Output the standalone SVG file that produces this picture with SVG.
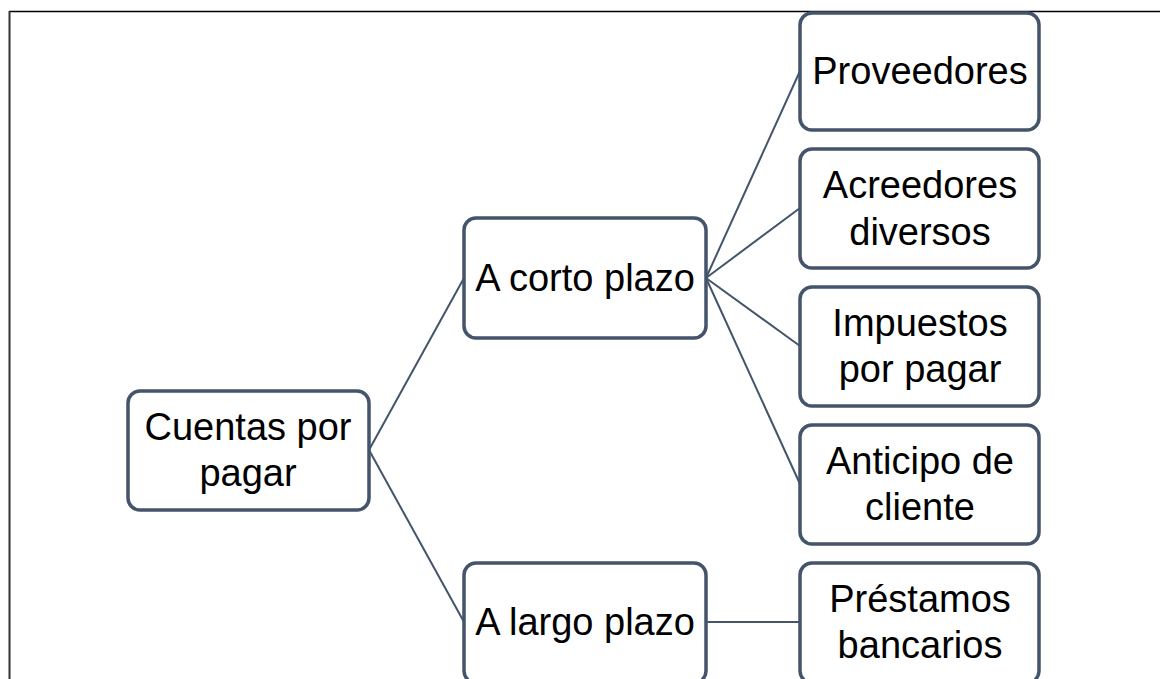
<svg xmlns="http://www.w3.org/2000/svg" width="1160" height="679" viewBox="0 0 1160 679">
<style>
.box{fill:#fff;stroke:#44546A;stroke-width:3.5}
.t{font-family:"Liberation Sans",Arial,sans-serif;font-size:38px;fill:#000;text-anchor:middle}
.c{stroke:#44546A;stroke-width:2;fill:none}
</style>
<rect x="0" y="0" width="1160" height="679" fill="#fff"/>
<line x1="9" y1="11.5" x2="1160" y2="11.5" stroke="#000" stroke-width="1.5"/>
<line x1="9.5" y1="11" x2="9.5" y2="679" stroke="#333" stroke-width="2"/>
<g id="connectors">
<line class="c" x1="369" y1="450" x2="464" y2="278"/>
<line class="c" x1="369" y1="450" x2="464" y2="622"/>
<line class="c" x1="706" y1="278" x2="800" y2="71"/>
<line class="c" x1="706" y1="278" x2="800" y2="208"/>
<line class="c" x1="706" y1="278" x2="800" y2="346"/>
<line class="c" x1="706" y1="278" x2="800" y2="484"/>
<line class="c" x1="706" y1="622" x2="800" y2="622"/>
</g>
<g id="n-cuentas"><rect class="box" x="128" y="391" width="241" height="119" rx="12"/><text class="t" x="248" y="440">Cuentas por</text><text class="t" x="248" y="486">pagar</text></g>
<g id="n-corto"><rect class="box" x="464" y="218" width="242" height="120" rx="12"/><text class="t" x="585" y="291">A corto plazo</text></g>
<g id="n-largo"><rect class="box" x="464" y="563" width="242" height="120" rx="12"/><text class="t" x="585" y="635">A largo plazo</text></g>
<g id="n-proveedores"><rect class="box" x="800" y="13" width="239" height="117" rx="12"/><text class="t" x="920" y="84">Proveedores</text></g>
<g id="n-acreedores"><rect class="box" x="800" y="149" width="239" height="119" rx="12"/><text class="t" x="920" y="198">Acreedores</text><text class="t" x="920" y="245">diversos</text></g>
<g id="n-impuestos"><rect class="box" x="800" y="287" width="239" height="119" rx="12"/><text class="t" x="920" y="336">Impuestos</text><text class="t" x="920" y="382">por pagar</text></g>
<g id="n-anticipo"><rect class="box" x="800" y="425" width="239" height="119" rx="12"/><text class="t" x="920" y="474">Anticipo de</text><text class="t" x="920" y="520">cliente</text></g>
<g id="n-prestamos"><rect class="box" x="800" y="563" width="239" height="120" rx="12"/><text class="t" x="920" y="612">Préstamos</text><text class="t" x="920" y="658">bancarios</text></g>
</svg>
